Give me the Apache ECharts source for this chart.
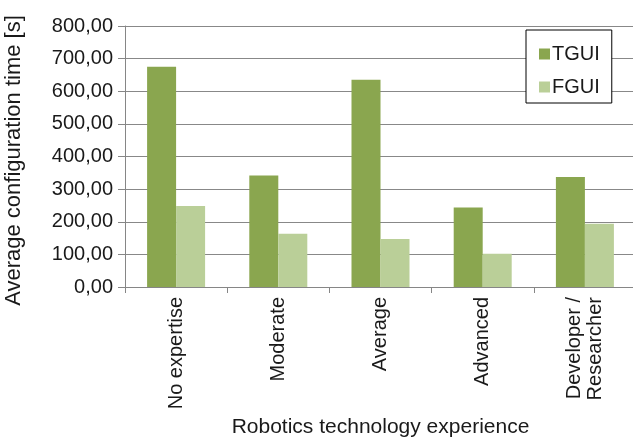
<!DOCTYPE html>
<html>
<head>
<meta charset="utf-8">
<script src="https://cdn.jsdelivr.net/npm/echarts@6/dist/echarts.min.js"></script>
<style>html,body{margin:0;padding:0;background:#fff}#c{width:633px;height:437px}</style>
</head>
<body>
<div id="c"></div>
<script>
const categories = ['No expertise', 'Moderate', 'Average', 'Advanced', 'Developer /\nResearcher'];
const tguiValues = [675, 342, 635, 244, 337];
const fguiValues = [248, 163, 147, 102, 194];
const seriesNames = ['TGUI', 'FGUI'];
const yTitle = 'Average configuration time [s]';
const xTitle = 'Robotics technology experience';

const FONT = 'Liberation Sans, Arial, sans-serif';
const chart = echarts.init(document.getElementById('c'), null, {renderer: 'canvas'});
chart.setOption({
  animation: false,
  backgroundColor: '#fff',
  textStyle: {fontFamily: FONT, color: '#1a1a1a'},
  grid: {left: 125, top: 26, width: 511, bottom: 150, containLabel: false, outerBoundsMode: 'none'},
  legend: {
    orient: 'vertical', left: 526, top: 30,
    backgroundColor: '#fff', borderColor: '#000', borderWidth: 1,
    padding: [14, 12, 6, 13], itemGap: 13, itemWidth: 11, itemHeight: 11,
    icon: 'rect',
    textStyle: {fontSize: 20, color: '#1a1a1a', fontFamily: FONT, padding: [0, 0, 0, -3]},
    data: seriesNames
  },
  xAxis: {
    type: 'category', data: categories,
    name: xTitle, nameLocation: 'middle', nameGap: 125,
    nameTextStyle: {fontSize: 21, color: '#1a1a1a'},
    axisLine: {lineStyle: {color: '#868686', width: 1}},
    axisTick: {show: true, length: 6, lineStyle: {color: '#868686'}},
    axisLabel: {rotate: 90, fontSize: 20, color: '#1a1a1a', margin: 10, interval: 0, lineHeight: 21}
  },
  yAxis: {
    type: 'value', min: 0, max: 800, interval: 100,
    name: yTitle, nameLocation: 'middle', nameGap: 100, nameRotate: 90,
    nameTextStyle: {fontSize: 22, color: '#1a1a1a', padding: [0, 8, 0, 0]},
    axisLine: {show: true, lineStyle: {color: '#868686', width: 1}},
    axisTick: {show: true, length: 7, lineStyle: {color: '#868686'}},
    splitLine: {show: true, lineStyle: {color: '#888888', width: 1}},
    axisLabel: {fontSize: 20, color: '#1a1a1a', margin: 12,
      formatter: v => v.toFixed(2).replace('.', ',')}
  },
  series: [
    {name: seriesNames[0], type: 'bar', data: tguiValues, barWidth: 29, barGap: '0%',
     itemStyle: {color: '#8aa64f'}},
    {name: seriesNames[1], type: 'bar', data: fguiValues, barWidth: 29, barGap: '0%',
     itemStyle: {color: '#bacf98'}}
  ]
});
</script>
</body>
</html>
